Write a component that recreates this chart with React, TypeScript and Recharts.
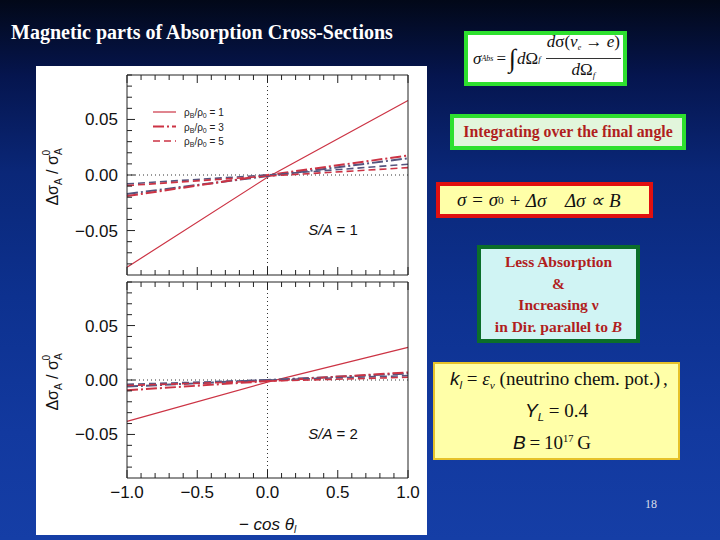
import React from 'react';
import { LineChart, Line, XAxis, YAxis, ReferenceLine, ReferenceDot, Legend } from 'recharts';

// -cos(theta_l) sample points
const cosTheta = [-1.0, 0.0, 1.0];

// S/A = 1 panel
const topSolid = [-0.083, -0.002, 0.067];
const topDashDotRed = [-0.019, 0.0, 0.0175];
const topDashDotBlue = [-0.017, -0.001, 0.015];
const topDashedRed = [-0.0095, -0.001, 0.0066];
const topDashedBlue = [-0.008, 0.0, 0.0097];

// S/A = 2 panel
const botSolid = [-0.038, -0.002, 0.030];
const botDashDotRed = [-0.0095, -0.001, 0.007];
const botDashDotBlue = [-0.006, 0.0, 0.006];
const botDashedRed = [-0.005, -0.001, 0.0025];
const botDashedBlue = [-0.004, 0.0, 0.004];

const xTicks = [-1.0, -0.9, -0.8, -0.7, -0.6, -0.5, -0.4, -0.3, -0.2, -0.1, 0.0, 0.1, 0.2, 0.3, 0.4, 0.5, 0.6, 0.7, 0.8, 0.9, 1.0];
const xTickLabels = [-1.0, -0.5, 0.0, 0.5, 1.0];
const yTicks = [-0.08, -0.07, -0.06, -0.05, -0.04, -0.03, -0.02, -0.01, 0.0, 0.01, 0.02, 0.03, 0.04, 0.05, 0.06, 0.07, 0.08, 0.09];
const yTickLabels = [-0.05, 0.0, 0.05];
const densityRatios = ['1', '3', '5'];

const RED = '#cc3344';
const BLUE = '#55557e';
const DASHDOT = '11 3 2 3';
const DASHED = '7 4';
const SANS = '"Liberation Sans", Arial, sans-serif';
const SERIF = '"Liberation Serif", "Times New Roman", serif';

const legendDash = ['', DASHDOT, DASHED];
const legendWidth = [1.2, 2, 1.6];

function buildRows(solid: number[], ddRed: number[], ddBlue: number[], dRed: number[], dBlue: number[]) {
  return cosTheta.map((x, i) => ({ x, solid: solid[i], ddRed: ddRed[i], ddBlue: ddBlue[i], dRed: dRed[i], dBlue: dBlue[i] }));
}

const topRows = buildRows(topSolid, topDashDotRed, topDashDotBlue, topDashedRed, topDashedBlue);
const botRows = buildRows(botSolid, botDashDotRed, botDashDotBlue, botDashedRed, botDashedBlue);

const near = (list: number[], v: number) => list.some((t) => Math.abs(t - v) < 1e-6);
const minus = (s: string) => s.replace('-', '\u2212');

const BottomTick = (p: any) => {
  const major = near(xTickLabels, p.payload.value);
  return (
    <g>
      <line x1={p.x} x2={p.x} y1={p.y} y2={p.y - (major ? 8 : 5)} stroke="#222" strokeWidth={1} />
      {p.showLabel && major && (
        <text x={p.x} y={p.y + 20} textAnchor="middle" fontSize={17} fontFamily={SANS} fill="#111">
          {minus(p.payload.value.toFixed(1))}
        </text>
      )}
    </g>
  );
};

const TopTick = (p: any) => {
  const major = near(xTickLabels, p.payload.value);
  return <line x1={p.x} x2={p.x} y1={p.y} y2={p.y + (major ? 8 : 5)} stroke="#222" strokeWidth={1} />;
};

const LeftTick = (p: any) => {
  const major = near(yTickLabels, p.payload.value);
  return (
    <g>
      <line x1={p.x} x2={p.x + (major ? 8 : 5)} y1={p.y} y2={p.y} stroke="#222" strokeWidth={1} />
      {major && (
        <text x={p.x - 9} y={p.y + 6} textAnchor="end" fontSize={17} fontFamily={SANS} fill="#111">
          {minus(p.payload.value.toFixed(2))}
        </text>
      )}
    </g>
  );
};

const RightTick = (p: any) => {
  const major = near(yTickLabels, p.payload.value);
  return <line x1={p.x} x2={p.x - (major ? 8 : 5)} y1={p.y} y2={p.y} stroke="#222" strokeWidth={1} />;
};

const YTitle = (props: any) => {
  const vb = props.viewBox;
  const cx = vb.x + 22;
  const cy = vb.y + vb.height / 2 + 2;
  return (
    <text transform={`translate(${cx},${cy}) rotate(-90)`} textAnchor="middle" fontSize={16} fontFamily={SANS} fill="#111">
      {'\u0394\u03c3'}
      <tspan fontSize={10} dy={4}>A</tspan>
      <tspan dy={-4}>{' / \u03c3'}</tspan>
      <tspan fontSize={10} dy={4}>A</tspan>
      <tspan fontSize={10} dx={-7} dy={-12}>0</tspan>
    </text>
  );
};

const XTitle = (props: any) => {
  const vb = props.viewBox;
  return (
    <text x={vb.x + vb.width / 2} y={vb.y + 52} textAnchor="middle" fontSize={17} fontFamily={SANS} fill="#111" fontStyle="italic">
      {'\u2212 cos \u03b8'}
      <tspan fontSize={10} dy={3}>l</tspan>
    </text>
  );
};

const SALabel = (text: string) => (props: any) => {
  const vb = props.viewBox;
  return (
    <text x={vb.x} y={vb.y + 6} fontSize={15} fontFamily={SANS} fill="#111">
      <tspan fontStyle="italic">S/A</tspan>
      {` = ${text}`}
    </text>
  );
};

const DensityLegend = (props: any) => {
  const items = (props.payload || []).filter((it: any) => it.type !== 'none' && densityRatios.includes(String(it.value)));
  return (
    <svg width={110} height={56} style={{ overflow: 'visible', display: 'block' }}>
      {items.map((it: any, i: number) => (
        <g key={i} transform={`translate(0,${8 + i * 14.5})`}>
          <line x1={1} x2={24} y1={0} y2={0} stroke={it.color} strokeWidth={legendWidth[i]} strokeDasharray={legendDash[i]} />
          <text x={32} y={4} fontSize={10} fontFamily={SANS} fill="#222">
            {'\u03c1'}
            <tspan fontSize={7} dy={2}>B</tspan>
            <tspan dy={-2}>/{'\u03c1'}</tspan>
            <tspan fontSize={7} dy={2}>0</tspan>
            <tspan dy={-2}>{` = ${it.value}`}</tspan>
          </text>
        </g>
      ))}
    </svg>
  );
};

type PanelProps = {
  rows: any[];
  top: number;
  height: number;
  topAxis: number;
  bottomAxis: number;
  sa: string;
  withLegend?: boolean;
  withXLabels?: boolean;
};

function Panel({ rows, top, height, topAxis, bottomAxis, sa, withLegend, withXLabels }: PanelProps) {
  return (
    <div style={{ position: 'absolute', left: 36, top }}>
      <LineChart width={391} height={height} data={rows} margin={{ top: 0, right: 0, bottom: 0, left: 0 }}>
        <XAxis
          dataKey="x"
          type="number"
          domain={[-1, 1]}
          ticks={xTicks}
          interval={0}
          height={bottomAxis}
          tickSize={0}
          tickMargin={0}
          tickLine={false}
          axisLine={{ stroke: '#222' }}
          tick={(p: any) => <BottomTick {...p} showLabel={withXLabels} />}
          label={withXLabels ? XTitle : undefined}
        />
        <XAxis
          xAxisId="top"
          orientation="top"
          dataKey="x"
          type="number"
          domain={[-1, 1]}
          ticks={xTicks}
          interval={0}
          height={topAxis}
          tickSize={0}
          tickMargin={0}
          tickLine={false}
          axisLine={{ stroke: '#222' }}
          tick={TopTick}
        />
        <YAxis
          type="number"
          domain={[-0.09, 0.09]}
          ticks={yTicks}
          interval={0}
          width={91}
          tickSize={0}
          tickMargin={0}
          tickLine={false}
          axisLine={{ stroke: '#222' }}
          tick={LeftTick}
          label={YTitle}
        />
        <YAxis
          yAxisId="right"
          orientation="right"
          type="number"
          domain={[-0.09, 0.09]}
          ticks={yTicks}
          interval={0}
          width={19}
          tickSize={0}
          tickMargin={0}
          tickLine={false}
          axisLine={{ stroke: '#222' }}
          tick={RightTick}
        />
        <ReferenceLine y={0} stroke="#333" strokeDasharray="1 3" />
        <ReferenceLine x={0} stroke="#333" strokeDasharray="1 3" />
        <Line dataKey="solid" name={densityRatios[0]} stroke={RED} strokeWidth={1.2} dot={false} isAnimationActive={false} />
        <Line dataKey="ddBlue" legendType="none" stroke={BLUE} strokeWidth={2} strokeDasharray={DASHDOT} dot={false} isAnimationActive={false} />
        <Line dataKey="ddRed" name={densityRatios[1]} stroke={RED} strokeWidth={2} strokeDasharray={DASHDOT} dot={false} isAnimationActive={false} />
        <Line dataKey="dBlue" legendType="none" stroke={BLUE} strokeWidth={1.6} strokeDasharray={DASHED} dot={false} isAnimationActive={false} />
        <Line dataKey="dRed" name={densityRatios[2]} stroke={RED} strokeWidth={1.6} strokeDasharray={DASHED} dot={false} isAnimationActive={false} />
        <ReferenceDot x={0.29} y={-0.049} r={0} stroke="none" fill="none" label={SALabel(sa)} />
        {withLegend && (
          <Legend
            layout="vertical"
            align="center"
            verticalAlign="middle"
            wrapperStyle={{ position: 'absolute', left: 116, top: 38, width: 110, height: 56 }}
            content={DensityLegend}
          />
        )}
      </LineChart>
    </div>
  );
}

const boxBase: React.CSSProperties = { position: 'absolute', boxSizing: 'border-box', fontFamily: SERIF };
const sub: React.CSSProperties = { fontSize: '60%', verticalAlign: '-0.35em' };

export default function App() {
  return (
    <div
      style={{
        position: 'fixed',
        left: 0,
        top: 0,
        width: 720,
        height: 540,
        overflow: 'hidden',
        background: 'linear-gradient(180deg, #020818 0%, #05154e 14%, #0a2778 32%, #0d318f 55%, #12399f 80%, #153ea6 100%)',
        fontFamily: SERIF,
      }}
    >
      <div style={{ position: 'absolute', left: 11, top: 21, color: '#fff', fontWeight: 'bold', fontSize: 20, whiteSpace: 'nowrap' }}>
        Magnetic parts of Absorption Cross-Sections
      </div>

      <div style={{ position: 'absolute', left: 36, top: 66, width: 391, height: 469, background: '#fff' }} />
      <Panel rows={topRows} top={66} height={215} topAxis={9} bottomAxis={6} sa="1" withLegend />
      <Panel rows={botRows} top={276} height={259} topAxis={6} bottomAxis={57} sa="2" withXLabels />

      <div style={{ ...boxBase, left: 464, top: 31, width: 163, height: 55, border: '4px solid #2ee02e', background: '#fff', display: 'flex', alignItems: 'center', paddingLeft: 5, fontSize: 17, color: '#111', whiteSpace: 'nowrap' }}>
        <span style={{ fontStyle: 'italic' }}>σ</span>
        <span style={{ ...sub, fontStyle: 'italic', fontSize: 8 }}>Abs</span>
        <span style={{ margin: '0 3px' }}>=</span>
        <span style={{ fontSize: 26, lineHeight: '20px', marginRight: 1 }}>∫</span>
        <span style={{ fontStyle: 'italic' }}>d</span>Ω<span style={{ ...sub, fontStyle: 'italic', fontSize: 9 }}>f</span>
        <span style={{ display: 'inline-flex', flexDirection: 'column', alignItems: 'center', marginLeft: 5, lineHeight: '22px' }}>
          <span style={{ borderBottom: '1px solid #333', padding: '0 1px', whiteSpace: 'nowrap' }}>
            <i>d</i>σ(<i>ν</i><span style={{ ...sub, fontStyle: 'italic', fontSize: 8 }}>e</span> → <i>e</i>)
          </span>
          <span>
            <i>d</i>Ω<span style={{ ...sub, fontStyle: 'italic', fontSize: 9 }}>f</span>
          </span>
        </span>
      </div>

      <div style={{ ...boxBase, left: 450, top: 114, width: 236, height: 36, border: '4px solid #2ee02e', background: '#e2f6dc', display: 'flex', alignItems: 'center', justifyContent: 'center', fontWeight: 'bold', fontSize: 15.8, color: '#b01e1e', whiteSpace: 'nowrap' }}>
        Integrating over the final angle
      </div>

      <div style={{ ...boxBase, left: 436, top: 182, width: 217, height: 36, border: '4px solid #e01010', background: '#ffffa8', display: 'flex', alignItems: 'center', paddingLeft: 17, fontSize: 19, fontStyle: 'italic', color: '#111', whiteSpace: 'pre' }}>
        σ = σ<span style={{ ...sub, fontStyle: 'normal' }}>0</span> + Δσ{'    '}Δσ ∝ B
      </div>

      <div style={{ ...boxBase, left: 477, top: 245, width: 163, height: 98, border: '4px solid #0b6e2a', background: '#d0f4f4', display: 'flex', flexDirection: 'column', alignItems: 'center', justifyContent: 'center', fontWeight: 'bold', fontSize: 15.5, lineHeight: '21.5px', color: '#b01e1e', whiteSpace: 'nowrap' }}>
        <div>Less Absorption</div>
        <div>&amp;</div>
        <div>Increasing ν</div>
        <div>
          in Dir. parallel to <i>B</i>
        </div>
      </div>

      <div style={{ ...boxBase, left: 433, top: 362, width: 247, height: 98, border: '2px solid #e6c22a', background: '#ffffa8', fontSize: 19, color: '#111' }}>
        <div style={{ position: 'absolute', left: 15, top: 4, whiteSpace: 'nowrap' }}>
          <i style={{ fontFamily: SANS }}>k</i>
          <span style={{ ...sub, fontFamily: SANS, fontStyle: 'italic' }}>l</span> = <i>ε</i>
          <span style={{ ...sub, fontStyle: 'italic' }}>ν</span> (neutrino chem. pot.)<span style={{ marginLeft: 3 }}>,</span>
        </div>
        <div style={{ position: 'absolute', left: 90, top: 36, whiteSpace: 'nowrap' }}>
          <i style={{ fontFamily: SANS }}>Y</i>
          <span style={{ ...sub, fontFamily: SANS, fontStyle: 'italic' }}>L</span> = 0.4
        </div>
        <div style={{ position: 'absolute', left: 78, top: 68, whiteSpace: 'nowrap' }}>
          <i style={{ fontFamily: SANS }}>B</i>
          {'\u2009=\u200910'}
          <sup style={{ fontSize: '55%' }}>17</sup>
          {'\u2009G'}
        </div>
      </div>

      <div style={{ position: 'absolute', left: 645, top: 497, fontSize: 12, color: '#d8dcea' }}>18</div>
    </div>
  );
}
